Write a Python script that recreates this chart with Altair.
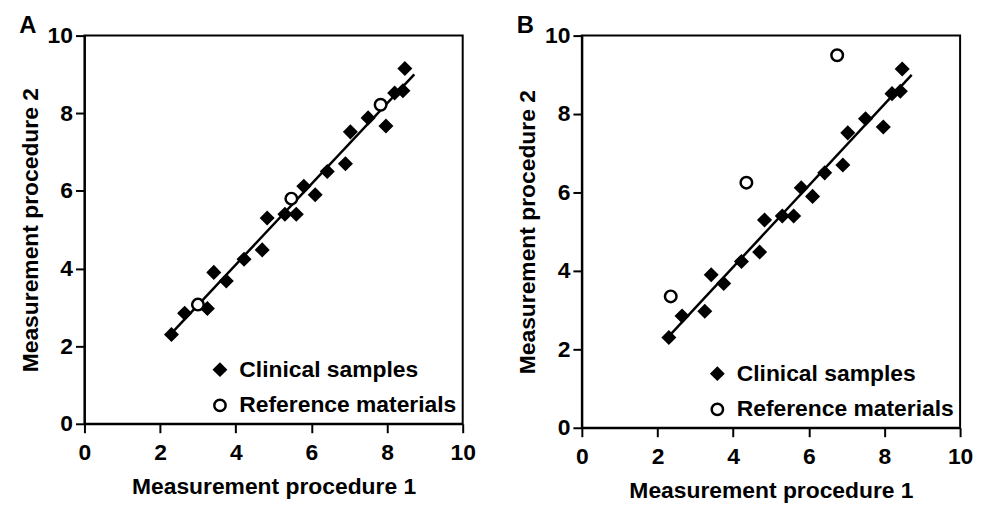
import altair as alt
import pandas as pd

# Clinical samples (same in both panels)
clin_x = [2.3, 2.65, 3.25, 3.42, 3.75, 4.22, 4.7, 4.83, 5.3, 5.6, 5.8, 6.1, 6.42, 6.9, 7.03, 7.5, 7.97, 8.2, 8.42, 8.47]
clin_y = [2.3, 2.85, 2.97, 3.9, 3.68, 4.24, 4.48, 5.3, 5.4, 5.4, 6.12, 5.9, 6.5, 6.7, 7.52, 7.88, 7.67, 8.52, 8.58, 9.15]

# Reference materials
ref_a_x = [3.0, 5.47, 7.83]
ref_a_y = [3.07, 5.8, 8.22]
ref_b_x = [2.35, 4.35, 6.75]
ref_b_y = [3.35, 6.25, 9.5]

# Regression line through clinical samples
fit_x = [2.25, 8.72]
fit_y = [2.28, 9.0]

types = ["Clinical samples", "Reference materials"]
ticks = [0, 2, 4, 6, 8, 10]

FONT = "Liberation Sans"


def panel(label, ref_x, ref_y, h):
    pts = pd.DataFrame({
        "x": clin_x + ref_x,
        "y": clin_y + ref_y,
        "type": [types[0]] * len(clin_x) + [types[1]] * len(ref_x),
    })
    line_df = pd.DataFrame({"x": fit_x, "y": fit_y})
    xs = alt.Scale(domain=[0, 10], nice=False, zero=False)
    ys = alt.Scale(domain=[0, 10], nice=False, zero=False)
    xax = alt.Axis(values=ticks, title="Measurement procedure 1", grid=False, labelFlush=False)
    yax = alt.Axis(values=ticks, title="Measurement procedure 2", grid=False, labelFlush=False)
    line = alt.Chart(line_df).mark_line(color="black", strokeWidth=2.5).encode(
        x=alt.X("x:Q", scale=xs, axis=xax),
        y=alt.Y("y:Q", scale=ys, axis=yax),
    )
    leg = alt.Legend(title=None, orient="bottom-right", offset=6, padding=0,
                     labelFont=FONT, labelFontSize=23, labelFontWeight="bold",
                     labelColor="black", labelLimit=0, rowPadding=12, labelOffset=8,
                     symbolSize=130, symbolStrokeWidth=2.5)
    points = alt.Chart(pts).mark_point(size=135, strokeWidth=2.5, opacity=1).encode(
        x=alt.X("x:Q", scale=xs, axis=xax),
        y=alt.Y("y:Q", scale=ys, axis=yax),
        shape=alt.Shape("type:N", scale=alt.Scale(domain=types, range=["diamond", "circle"]), legend=leg),
        fill=alt.Fill("type:N", scale=alt.Scale(domain=types, range=["black", "white"]), legend=leg),
        stroke=alt.Stroke("type:N", scale=alt.Scale(domain=types, range=["black", "black"]), legend=leg),
    )
    return alt.layer(line, points).properties(
        width=381, height=h,
        title=alt.TitleParams(label, anchor="start", frame="bounds", fontSize=24,
                              font=FONT, fontWeight="bold", color="black", offset=-13),
    )


chart = alt.hconcat(
    panel("A", ref_a_x, ref_a_y, 391),
    panel("B", ref_b_x, ref_b_y, 395),
    spacing=39,
).resolve_legend(shape="independent", fill="independent", stroke="independent").resolve_scale(
    shape="independent", fill="independent", stroke="independent"
).properties(
    padding={"left": 10, "top": 3, "right": 0, "bottom": 0}
).configure_view(
    stroke="black", strokeWidth=2
).configure_axis(
    domainColor="black", domainWidth=2, tickColor="black", tickWidth=2, tickSize=9,
    labelFont=FONT, labelFontSize=23, labelFontWeight="bold", labelColor="black",
    titleFont=FONT, titleFontSize=23, titleFontWeight="bold", titleColor="black",
).configure_axisX(
    labelPadding=9, titlePadding=11
).configure_axisY(
    labelPadding=3, titlePadding=5
)

chart.save("out.html", embed_options={"renderer": "svg", "actions": False})
